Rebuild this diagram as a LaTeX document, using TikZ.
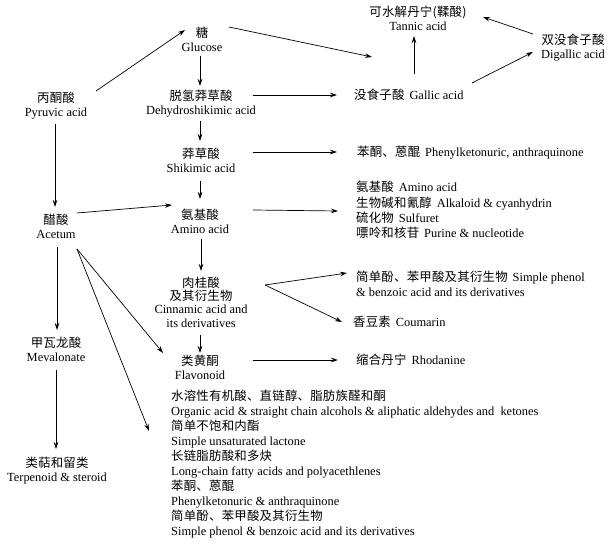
\documentclass[tikz,border=0pt]{standalone}
\usepackage{fontspec}
\setmainfont{Liberation Serif}
\newfontfamily\cjk[LetterSpace=2]{Noto Sans CJK SC}
\newcommand{\zh}[1]{{\cjk #1}}
\usetikzlibrary{arrows.meta,calc}
\tikzset{
  lbl/.style={inner sep=0pt, align=center, font=\fontsize{12.4}{14}\selectfont},
  lst/.style={inner sep=0pt, align=left, anchor=west, font=\fontsize{12.4}{15.2}\selectfont},
  arr/.style={draw, line width=0.7pt, -{Stealth[length=7pt,width=4.5pt]}}
}
\begin{document}
\begin{tikzpicture}[x=1pt,y=-1pt]
\fill[white] (0,0) rectangle (611,545);
\useasboundingbox (0,0) rectangle (611,545);
% nodes
\node[lbl] (pyr) at (56,106) {\zh{丙酮酸}\\Pyruvic acid};
\node[lbl] (glu) at (202,39) {\zh{糖}\\Glucose};
\node[lbl] (dehy) at (201,104) {\zh{脱氢莽草酸}\\Dehydroshikimic acid};
\node[lbl] (shik) at (201,160) {\zh{莽草酸}\\Shikimic acid};
\node[lbl] (amino) at (200,221) {\zh{氨基酸}\\Amino acid};
\node[lbl, font=\fontsize{12.4}{13.4}\selectfont] (cinn) at (201,302) {\zh{肉桂酸}\\\zh{及其衍生物}\\Cinnamic acid and\\its derivatives};
\node[lbl] (flav) at (200,367) {\zh{类黄酮}\\Flavonoid};
\node[lbl] (acet) at (56,226) {\zh{醋酸}\\Acetum};
\node[lbl] (meva) at (56,349) {\zh{甲瓦龙酸}\\Mevalonate};
\node[lbl] (terp) at (57,471) {\zh{类萜和留类}\\Terpenoid \& steroid};
\node[lbl] (tannic) at (418,18) {\zh{可水解丹宁(鞣酸)}\\Tannic acid};
\node[lbl] (digallic) at (573,48) {\zh{双没食子酸}\\Digallic acid};
\node[lst] (gallic) at (354,95) {\zh{没食子酸}\hspace{5pt}Gallic acid};
\node[lst] (phenyl) at (357,153) {\zh{苯酮、蒽醌}\hspace{5pt}Phenylketonuric, anthraquinone};
\node[lst] (aminolist) at (356,210) {\zh{氨基酸}\hspace{5pt}Amino acid\\\zh{生物碱和氰醇}\hspace{5pt}Alkaloid \& cyanhydrin\\\zh{硫化物}\hspace{5pt}Sulfuret\\\zh{嘌呤和核苷}\hspace{5pt}Purine \& nucleotide};
\node[lst, font=\fontsize{12.4}{14.5}\selectfont] (simple) at (356,284) {\zh{简单酚、苯甲酸及其衍生物}\hspace{5pt}Simple phenol\\\& benzoic acid and its derivatives};
\node[lst] (coum) at (353,322) {\zh{香豆素}\hspace{5pt}Coumarin};
\node[lst] (rhod) at (356,360) {\zh{缩合丹宁}\hspace{5pt}Rhodanine};
\node[lst, font=\fontsize{12.4}{15}\selectfont] (bottom) at (171,464) {\zh{水溶性有机酸、直链醇、脂肪族醛和酮}\\Organic acid \& straight chain alcohols \& aliphatic aldehydes and\ \ ketones\\\zh{简单不饱和内酯}\\Simple unsaturated lactone\\\zh{长链脂肪酸和多炔}\\Long-chain fatty acids and polyacethlenes\\\zh{苯酮、蒽醌}\\Phenylketonuric \& anthraquinone\\\zh{简单酚、苯甲酸及其衍生物}\\Simple phenol \& benzoic acid and its derivatives};
% connectors
\draw[arr] ($(pyr)+(40,-15)$) -- ($(glu)+(-17,-9)$);
\draw[arr] ($(glu)+(27,-12)$) -- ($(tannic)+(-46,39)$);
\draw[arr] ($(glu)+(-2,17)$) -- ($(dehy)+(-1,-18)$);
\draw[arr] ($(dehy)+(52,-9)$) -- ($(gallic.west)+(-17,0)$);
\draw[arr] ($(dehy)+(-1,17)$) -- ($(shik)+(-1,-19)$);
\draw[arr] ($(shik)+(52,-8)$) -- ($(phenyl.west)+(-20,-1)$);
\draw[arr] ($(shik)+(-1,21)$) -- ($(amino)+(0,-22)$);
\draw[arr] ($(acet)+(21,-13)$) -- ($(amino)+(-28,-16)$);
\draw[arr] ($(amino)+(53,-11)$) -- ($(aminolist.west)+(-18,1)$);
\draw[arr] ($(amino)+(1,18)$) -- ($(cinn)+(0,-31)$);
\draw[arr] ($(cinn)+(64,-17)$) -- ($(simple.west)+(-9,-11)$);
\draw[arr] ($(cinn)+(64,-17)$) -- ($(coum.west)+(-11,0)$);
\draw[arr] ($(cinn)+(-1,33)$) -- ($(flav)+(0,-14)$);
\draw[arr] ($(flav)+(53,-7)$) -- ($(rhod.west)+(-18,0)$);
\draw[arr] ($(pyr)+(-1,18)$) -- ($(acet)+(-1,-19)$);
\draw[arr] ($(acet)+(1,21)$) -- ($(meva)+(1,-19)$);
\draw[arr] ($(meva)+(0,21)$) -- ($(terp)+(-1,-22)$);
\draw[arr] ($(acet)+(21,23)$) -- ($(flav)+(-37,-14)$);
\draw[arr] ($(acet)+(21,23)$) -- ($(bottom.west)+(-22,-33)$);
\draw[arr] ($(gallic.west)+(60,-21)$) -- ($(tannic)+(-4,18)$);
\draw[arr] ($(gallic.west)+(118,-12)$) -- ($(digallic)+(-40,4)$);
\draw[arr] ($(digallic)+(-40,-14)$) -- ($(tannic)+(65,-1)$);
\end{tikzpicture}
\end{document}
